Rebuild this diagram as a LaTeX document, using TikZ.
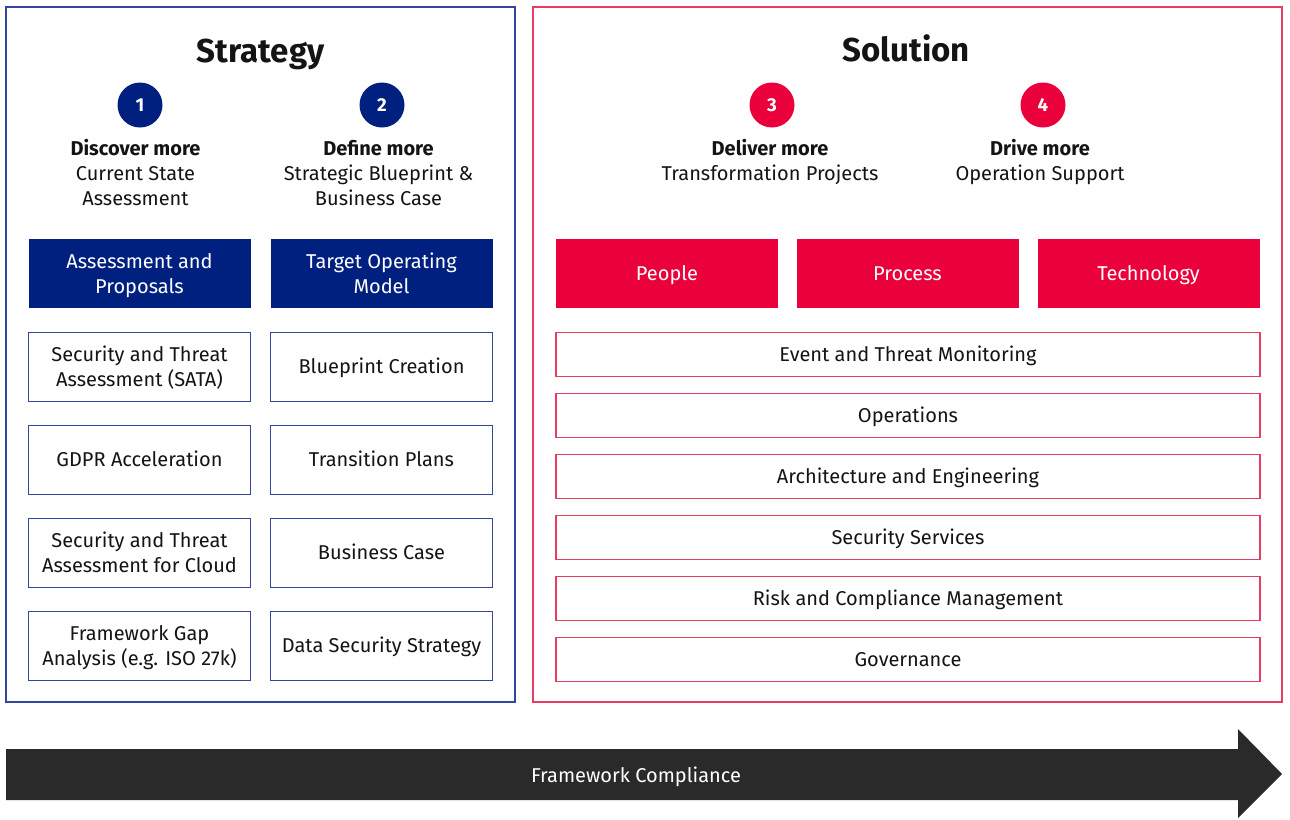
\documentclass[tikz,border=0pt]{standalone}
\usepackage{fontspec}
\setmainfont{Fira Sans}
\definecolor{navy}{RGB}{0,32,128}
\definecolor{fblue}{RGB}{50,70,160}
\definecolor{rred}{RGB}{234,0,58}
\definecolor{fred}{RGB}{232,60,100}
\definecolor{arrowgray}{RGB}{42,42,42}
\definecolor{ink}{RGB}{20,20,20}
\tikzset{
  x=0.75pt, y=-0.75pt,
  body/.style={font=\fontsize{15}{18.75}\selectfont, align=center, inner sep=0pt, text=ink},
  title/.style={font=\fontsize{24.8}{28}\selectfont\bfseries, inner sep=0pt, anchor=base, text=ink},
  numcirc/.style={circle, minimum size=45*0.75pt, inner sep=0pt, text=white, font=\fontsize{14}{16}\selectfont\bfseries},
  boxtext/.style={body, text height=10.35pt, text depth=0pt, yshift=-1.1pt},
  two/.style={text height=29.1pt},
  navybox/.style={boxtext, fill=navy, text=white, minimum width=222*0.75pt, minimum height=69*0.75pt},
  bluebox/.style={boxtext, draw=fblue, line width=0.9pt, minimum width=222*0.75pt, minimum height=69*0.75pt},
  redbox/.style={boxtext, fill=rred, text=white, minimum width=222*0.75pt, minimum height=69*0.75pt},
  redrow/.style={boxtext, draw=fred, line width=0.9pt, minimum width=704*0.75pt, minimum height=44*0.75pt},
  frameb/.style={draw=fblue, line width=0.9pt},
  framer/.style={draw=fred, line width=0.9pt},
}
\begin{document}
\begin{tikzpicture}
\useasboundingbox (0,0) rectangle (1290,819);
% frames
\draw[frameb] (6,7) rectangle (515,702);
\draw[framer] (533,7) rectangle (1282,702);
% titles
\node[title] (tS) at (260.5,62) {Strategy};
\node[title] (tSol) at (906,61.5) {Solution};
% circles
\node[numcirc, fill=navy] (c1) at (140,105) {1};
\node[numcirc, fill=navy] (c2) at (382,105) {2};
\node[numcirc, fill=rred] (c3) at (772,105) {3};
\node[numcirc, fill=rred] (c4) at (1043,105) {4};
% headings (anchor=base is the last line's baseline)
\node[body, anchor=base] (h1) at (135.5,205) {\textbf{Discover more}\\Current State\\Assessment};
\node[body, anchor=base] (h2) at (378.5,205) {\textbf{Define more}\\Strategic Blueprint \&\\Business Case};
\node[body, anchor=base] (h3) at (770,180) {\textbf{Deliver more}\\Transformation Projects};
\node[body, anchor=base] (h4) at (1040,180) {\textbf{Drive more}\\Operation Support};
% strategy boxes
\node[navybox, two] (a0) at (139.5,272.5) {Assessment and\\Proposals};
\node[navybox, two] (b0) at (381.5,272.5) {Target Operating\\Model};
\node[bluebox, two] (a1) at (139.5,365.5) {Security and Threat\\Assessment (SATA)};
\node[bluebox] (b1) at (381.5,365.5) {Blueprint Creation};
\node[bluebox] (a2) at (139.5,458.5) {GDPR Acceleration};
\node[bluebox] (b2) at (381.5,458.5) {Transition Plans};
\node[bluebox, two] (a3) at (139.5,551.5) {Security and Threat\\Assessment for Cloud};
\node[bluebox] (b3) at (381.5,551.5) {Business Case};
\node[bluebox, two] (a4) at (139.5,644.5) {Framework Gap\\Analysis (e.g. ISO 27k)};
\node[bluebox] (b4) at (381.5,644.5) {Data Security Strategy};
% solution boxes
\node[redbox] (p1) at (667,272.5) {People};
\node[redbox] (p2) at (907.5,272.5) {Process};
\node[redbox] (p3) at (1148.5,272.5) {Technology};
\node[redrow] (r1) at (908,353) {Event and Threat Monitoring};
\node[redrow] (r2) at (908,414) {Operations};
\node[redrow] (r3) at (908,475) {Architecture and Engineering};
\node[redrow] (r4) at (908,536) {Security Services};
\node[redrow] (r5) at (908,597) {Risk and Compliance Management};
\node[redrow] (r6) at (908,658) {Governance};
% arrow
\fill[arrowgray] (6,749) -- (1238,749) -- (1238,729) -- (1282,774) -- (1238,818) -- (1238,800) -- (6,800) -- cycle;
\node[body, text=white, anchor=base] (fc) at (636,782.5) {Framework Compliance};
\end{tikzpicture}
\end{document}
